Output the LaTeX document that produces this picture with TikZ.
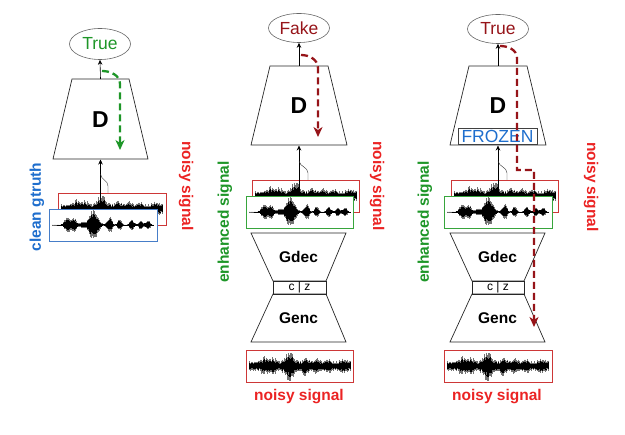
\documentclass[tikz,border=0pt]{standalone}
\usepackage{fontspec}
\setmainfont{Liberation Sans}
\usetikzlibrary{arrows.meta,shapes.geometric}
\definecolor{tgreen}{RGB}{30,150,40}
\definecolor{dred}{RGB}{150,20,25}
\definecolor{lred}{RGB}{235,35,35}
\definecolor{lblue}{RGB}{30,110,205}
\definecolor{boxred}{RGB}{205,55,55}
\definecolor{boxblue}{RGB}{70,125,200}
\definecolor{boxgreen}{RGB}{55,165,60}
\tikzset{
 ell/.style={draw=black!60, ellipse, line width=0.6pt, minimum width=61pt, minimum height=29pt, inner sep=0pt, font=\fontsize{17.5}{17.5}\selectfont},
 blk/.style={draw=black!85, line width=0.7pt},
 dlbl/.style={font=\bfseries\fontsize{23}{23}\selectfont},
 glbl/.style={font=\bfseries\fontsize{15.5}{15.5}\selectfont},
 side/.style={font=\bfseries\fontsize{15.5}{15.5}\selectfont},
 feed/.style={-{Stealth[length=5pt,width=4.5pt]}, line width=0.6pt},
 hairln/.style={line width=0.4pt, black!80},
 grad/.style={line width=2.3pt, dash pattern=on 7pt off 4pt, -{Stealth[length=10pt,width=9pt,inset=3pt]}},
 sigbox/.style={line width=0.8pt, fill=white},
 waveout/.style={black!55, line width=0.6pt},
 wavein/.style={black, line width=0.6pt},
}
\newcommand{\cleanwave}[2]{%
 \pgfmathsetseed{11}
 \draw[black!45, line width=0.4pt] (#1,#2) -- ++(101,0);
 \foreach \i in {0,...,168}{
  \pgfmathsetmacro{\wt}{\i/168}
  \pgfmathsetmacro{\wa}{min(1,0.5*exp(-min(9,(\wt-0.15)*(\wt-0.15)/0.0016)) + 0.45*exp(-min(9,(\wt-0.22)*(\wt-0.22)/0.001)) + 0.22*exp(-min(9,(\wt-0.30)*(\wt-0.30)/0.0008)) + 1.0*exp(-min(9,(\wt-0.41)*(\wt-0.41)/0.0032)) + 0.55*exp(-min(9,(\wt-0.57)*(\wt-0.57)/0.0009)) + 0.38*exp(-min(9,(\wt-0.67)*(\wt-0.67)/0.0007)) + 0.36*exp(-min(9,(\wt-0.79)*(\wt-0.79)/0.0008)) + 0.3*exp(-min(9,(\wt-0.88)*(\wt-0.88)/0.0008)) + 0.32*exp(-min(9,(\wt-0.95)*(\wt-0.95)/0.0008)))}
  \pgfmathsetmacro{\wu}{15.5*\wa*(0.7+0.3*rnd)}
  \pgfmathsetmacro{\wd}{15.5*\wa*(0.7+0.3*rnd)}
  \draw[waveout] (#1+0.6*\i,#2-\wu) -- (#1+0.6*\i,#2+\wd);
  \draw[wavein] (#1+0.6*\i,#2-0.72*\wu) -- (#1+0.6*\i,#2+0.72*\wd);
 }}
\newcommand{\noisywave}[2]{%
 \pgfmathsetseed{23}
 \foreach \i in {0,...,168}{
  \pgfmathsetmacro{\wt}{\i/168}
  \pgfmathsetmacro{\wa}{min(1,0.3 + 0.32*exp(-min(9,(\wt-0.15)*(\wt-0.15)/0.002)) + 0.28*exp(-min(9,(\wt-0.24)*(\wt-0.24)/0.0012)) + 0.72*exp(-min(9,(\wt-0.40)*(\wt-0.40)/0.0028)) + 0.4*exp(-min(9,(\wt-0.56)*(\wt-0.56)/0.001)) + 0.25*exp(-min(9,(\wt-0.67)*(\wt-0.67)/0.0012)) + 0.2*exp(-min(9,(\wt-0.78)*(\wt-0.78)/0.0012)) + 0.2*exp(-min(9,(\wt-0.94)*(\wt-0.94)/0.002)))}
  \pgfmathsetmacro{\wu}{15.5*\wa*(0.55+0.45*rnd)}
  \pgfmathsetmacro{\wd}{15.5*\wa*(0.55+0.45*rnd)}
  \draw[waveout] (#1+0.6*\i,#2-\wu) -- (#1+0.6*\i,#2+\wd);
  \draw[wavein] (#1+0.6*\i,#2-0.7*\wu) -- (#1+0.6*\i,#2+0.7*\wd);
 }}
\begin{document}
\begin{tikzpicture}[x=1pt,y=-1pt]
\useasboundingbox (0,0) rectangle (625,435);
% ================= Panel 1 =================
\node[ell, text=tgreen, minimum height=31pt] (e1) at (100,44) {True};
\draw[blk] (72,79) -- (129,79) -- (148,159) -- (53,159) -- cycle;
\coordinate (d1top) at (100.5,79);
\coordinate (d1bot) at (100.5,159.5);
\node[dlbl] (d1) at (100.5,120) {D};
\draw[feed] (d1top) -- (e1.south);
\draw[sigbox, draw=boxred] (58,193) rectangle (166,225);
\noisywave{61}{209}
\coordinate (f1) at (100.5,208);
\coordinate (h1) at (108,193);
\draw[feed] (f1) -- (d1bot);
\draw[hairln] (h1) -- (108,186) .. controls (108,180) and (101,180) .. (100.5,174);
\draw[sigbox, draw=boxblue] (49,209) rectangle (157,241);
\cleanwave{52}{225}
\node[side, text=lblue, rotate=90] (cg1) at (37,207) {clean gtruth};
\node[side, text=lred, rotate=-90] (ns1) at (186,186) {noisy signal};
\coordinate (g1a) at (102,71);
\coordinate (g1b) at (120,150);
\draw[grad, tgreen] (g1a) to[out=0,in=90] (120,84) -- (g1b);
% ================= Panel 2 =================
\node[ell, text=dred] (e2) at (299,28) {Fake};
\draw[blk] (270,66) -- (328,66) -- (347,145) -- (251,145) -- cycle;
\coordinate (d2top) at (299,66);
\coordinate (d2bot) at (299,145.5);
\node[dlbl] (d2) at (299,106) {D};
\draw[feed] (d2top) -- (e2.south);
\draw[sigbox, draw=boxred] (252,180) rectangle (359,212);
\noisywave{255}{196}
\coordinate (f2) at (299,197);
\coordinate (h2) at (308,180);
\draw[feed] (f2) -- (d2bot);
\draw[hairln] (h2) -- (308,173) .. controls (308,167) and (300,167) .. (299,161);
\draw[sigbox, draw=boxgreen] (246,196) rectangle (353,228);
\cleanwave{249}{212}
\draw[blk] (251,233) -- (346,233) -- (326,281) -- (273,281) -- cycle;
\node[glbl] (gd2) at (298.5,257) {Gdec};
\node[draw=black!85, line width=0.7pt, minimum width=53pt, minimum height=13pt, inner sep=0pt, font=\fontsize{12}{12}\selectfont] (cz2) at (299.5,287.5) {c | z};
\draw[blk] (273,294) -- (326,294) -- (346,342) -- (251,342) -- cycle;
\node[glbl] (ge2) at (298.5,318) {Genc};
\draw[sigbox, draw=boxred] (246,350) rectangle (353,382);
\noisywave{249}{366}
\node[side, text=tgreen, rotate=90] (es2) at (225,222) {enhanced signal};
\node[side, text=lred, rotate=-90] (ns2) at (377,186) {noisy signal};
\node[side, text=lred] (nb2) at (299,397) {noisy signal};
\coordinate (g2a) at (301,55);
\coordinate (g2b) at (318,137);
\draw[grad, dred] (g2a) to[out=0,in=90] (318,68) -- (g2b);
% ================= Panel 3 =================
\node[ell, text=dred] (e3) at (498,29) {True};
\draw[blk] (469,66) -- (527,66) -- (546,145) -- (450,145) -- cycle;
\coordinate (d3top) at (498,66);
\coordinate (d3bot) at (498,145.5);
\node[dlbl] (d3) at (498,106) {D};
\node[draw=black!75, line width=0.7pt, minimum width=79pt, minimum height=16pt, inner sep=0pt, text=lblue, font=\fontsize{17.5}{17.5}\selectfont] (fz3) at (497.5,136) {FROZEN};
\draw[feed] (d3top) -- (e3.south);
\draw[sigbox, draw=boxred] (451,180) rectangle (558,212);
\noisywave{454}{196}
\coordinate (f3) at (498,197);
\coordinate (h3) at (507,180);
\draw[feed] (f3) -- (d3bot);
\draw[hairln] (h3) -- (507,173) .. controls (507,167) and (499,167) .. (498,161);
\draw[sigbox, draw=boxgreen] (444,196) rectangle (552,228);
\cleanwave{447}{212}
\draw[blk] (450,233) -- (545,233) -- (524,281) -- (472,281) -- cycle;
\node[glbl] (gd3) at (497.5,257) {Gdec};
\node[draw=black!85, line width=0.7pt, minimum width=52pt, minimum height=13pt, inner sep=0pt, font=\fontsize{12}{12}\selectfont] (cz3) at (498,287.5) {c | z};
\draw[blk] (472,294) -- (524,294) -- (545,342) -- (450,342) -- cycle;
\node[glbl] (ge3) at (497.5,318) {Genc};
\draw[sigbox, draw=boxred] (444,350) rectangle (552,382);
\noisywave{447}{366}
\node[side, text=tgreen, rotate=90] (es3) at (425,222) {enhanced signal};
\node[side, text=lred, rotate=-90] (ns3) at (591,187) {noisy signal};
\node[side, text=lred] (nb3) at (497,397) {noisy signal};
\coordinate (g3a) at (500,46);
\coordinate (g3b) at (534,327);
\draw[grad, dred] (g3a) to[out=0,in=90] (517,58) -- (517,170) -- (534,170) -- (g3b);
\end{tikzpicture}
\end{document}
